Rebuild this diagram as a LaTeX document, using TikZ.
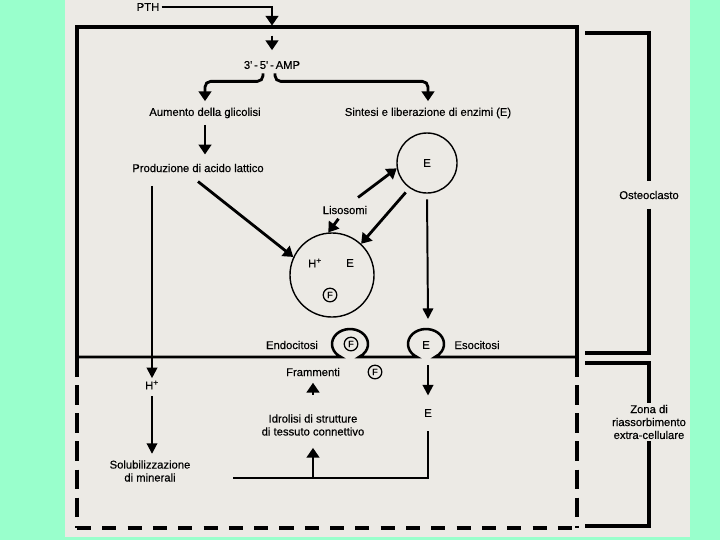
\documentclass[tikz,border=0pt]{standalone}
\usepackage{fontspec}
\setmainfont{Liberation Sans}
\newfontfamily\lblfont{Liberation Sans}[FakeBold=0.3]
\usetikzlibrary{arrows.meta,calc}
\definecolor{mint}{RGB}{153,255,204}
\definecolor{paper}{RGB}{236,234,229}

\begin{document}
\begin{tikzpicture}[x=0.025cm,y=-0.025cm,
    lbl/.style={font=\lblfont\fontsize{8}{9.2}\selectfont,inner sep=1.5pt},
    ln/.style={line width=1.4pt},
    thk/.style={line width=2pt,-{Triangle[width=9pt,length=7pt]}},
    thn/.style={ln,-{Triangle[width=7.5pt,length=7.5pt]}},
    wall/.style={line width=2.2pt},
    gapv/.style={line width=2.6pt,dash pattern=on 14pt off 6pt},
    gaph/.style={line width=2.6pt,dash pattern=on 10pt off 8pt},
    ves/.style={circle,draw,line width=1pt,lbl},
    fcirc/.style={circle,draw,line width=0.9pt,inner sep=0.5pt,minimum size=0.34cm,font=\lblfont\fontsize{6.5}{6.5}\selectfont}]
    \fill[mint] (0,0) rectangle (720,540);
    \fill[paper] (65,0) rectangle (690,537);

    \draw[wall] (77,357) -- (77,27) -- (577,27) -- (577,357);
    \draw[gapv] (77,357) -- (77,528);
    \draw[gapv] (577,357) -- (577,528);
    \draw[gaph] (77,528) -- (577,528);

    \node[lbl] (osteo) at (649,195) {Osteoclasto};
    \node[lbl,align=center] (zona) at (649,422) {Zona di\\riassorbimento\\extra-cellulare};
    \draw[wall,shorten >=5pt] (585,33) -| (osteo.north);
    \draw[wall,shorten <=5pt] (osteo.south) |- (585,353);
    \draw[wall] (585,363) -| (zona.north);
    \draw[wall] (zona.south) |- (585,526);

    \node[lbl] (pth) at (148,7) {PTH};
    \node[lbl] (amp) at (272,65) {3'\,-\,5'\,-\,AMP};
    \node[lbl] (glic) at (205,113) {Aumento della glicolisi};
    \node[lbl] (sint) at (428,113) {Sintesi e liberazione di enzimi (E)};
    \node[lbl] (prod) at (198,168) {Produzione di acido lattico};
    \node[ves,minimum size=1.5cm] (lys) at (427,163) {E};
    \node[lbl] (liso) at (345,210) {Lisosomi};
    \node[ves,minimum size=2.1cm] (fag) at (332,275) {};
    \node[lbl] (hp) at (315,263) {H\textsuperscript{+}};
    \node[lbl] (fe) at (350,263) {E};
    \node[fcirc] (ff) at (330,295) {F};

    \coordinate (endo) at (350,357);
    \coordinate (exo) at (426,357);
    \draw[line width=1.8pt] (77,357) -- ($(endo)+(-9,0)$)
        arc[start angle=120,end angle=420,x radius=18,y radius=15]
        -- ($(exo)+(-9,0)$)
        arc[start angle=120,end angle=420,x radius=18,y radius=15]
        -- (577,357);
    \node[fcirc] (endF) at (351,344) {F};
    \node[lbl] (exoE) at (426,345) {E};
    \node[lbl] (endt) at (292,345) {Endocitosi};
    \node[lbl] (exot) at (477,345) {Esocitosi};

    \node[lbl] (hplus) at (152,385) {H\textsuperscript{+}};
    \node[lbl,align=center] (solub) at (150,471) {Solubilizzazione\\di minerali};
    \node[lbl] (framm) at (313,372) {Frammenti};
    \node[fcirc] (fragF) at (375,372) {F};
    \node[lbl,align=center] (idro) at (313,425) {Idrolisi di strutture\\di tessuto connettivo};
    \node[lbl] (eout) at (428,413) {E};
    \coordinate (base) at (233,478);

    \draw[thk] (pth) -| ($(amp.north)+(0,-33)$);
    \draw[thk,shorten >=6pt] ($(amp.north)+(0,-23)$) -- (amp);
    \draw[thk,rounded corners=4pt,shorten >=3pt] ($(amp.south)+(-9,2)$) |- ($(glic.north)+(0,-24)$) -- (glic);
    \draw[thk,rounded corners=4pt,shorten >=3pt] ($(amp.south)+(3,2)$) |- ($(sint.north)+(0,-24)$) -- (sint);
    \draw[thk,shorten <=3pt,shorten >=5pt] (glic.south) -- (glic.south |- prod.north);
    \draw[thn,shorten <=8pt] (prod.south -| hplus) -- (hplus);
    \draw[thn,shorten <=3pt,shorten >=3pt] (hplus.south) -- (hplus.south |- solub.north);
    \draw[thk] ($(prod.south)+(0,7)$) -- (fag.155);
    \draw[thk,shorten <=2pt] (liso) -- (fag.95);
    \draw[thk] ($(liso.north)+(13,-6)$) -- (lys.190);
    \draw[thk,shorten <=4pt] (lys.235) -- (fag.47);
    \draw[thn,shorten <=4pt] (lys.south) -- ($(exo)+(2,-38)$);
    \draw[thn,shorten >=8pt] ($(exo)+(2,8)$) -- (eout);
    \draw[ln] ($(eout.south)+(0,12)$) |- (base);
    \draw[thk,shorten >=7pt] (base -| idro) -- (idro);
    \draw[thk,shorten >=3pt] ($(framm.south)+(0,16)$) -- (framm);
\end{tikzpicture}
\end{document}
